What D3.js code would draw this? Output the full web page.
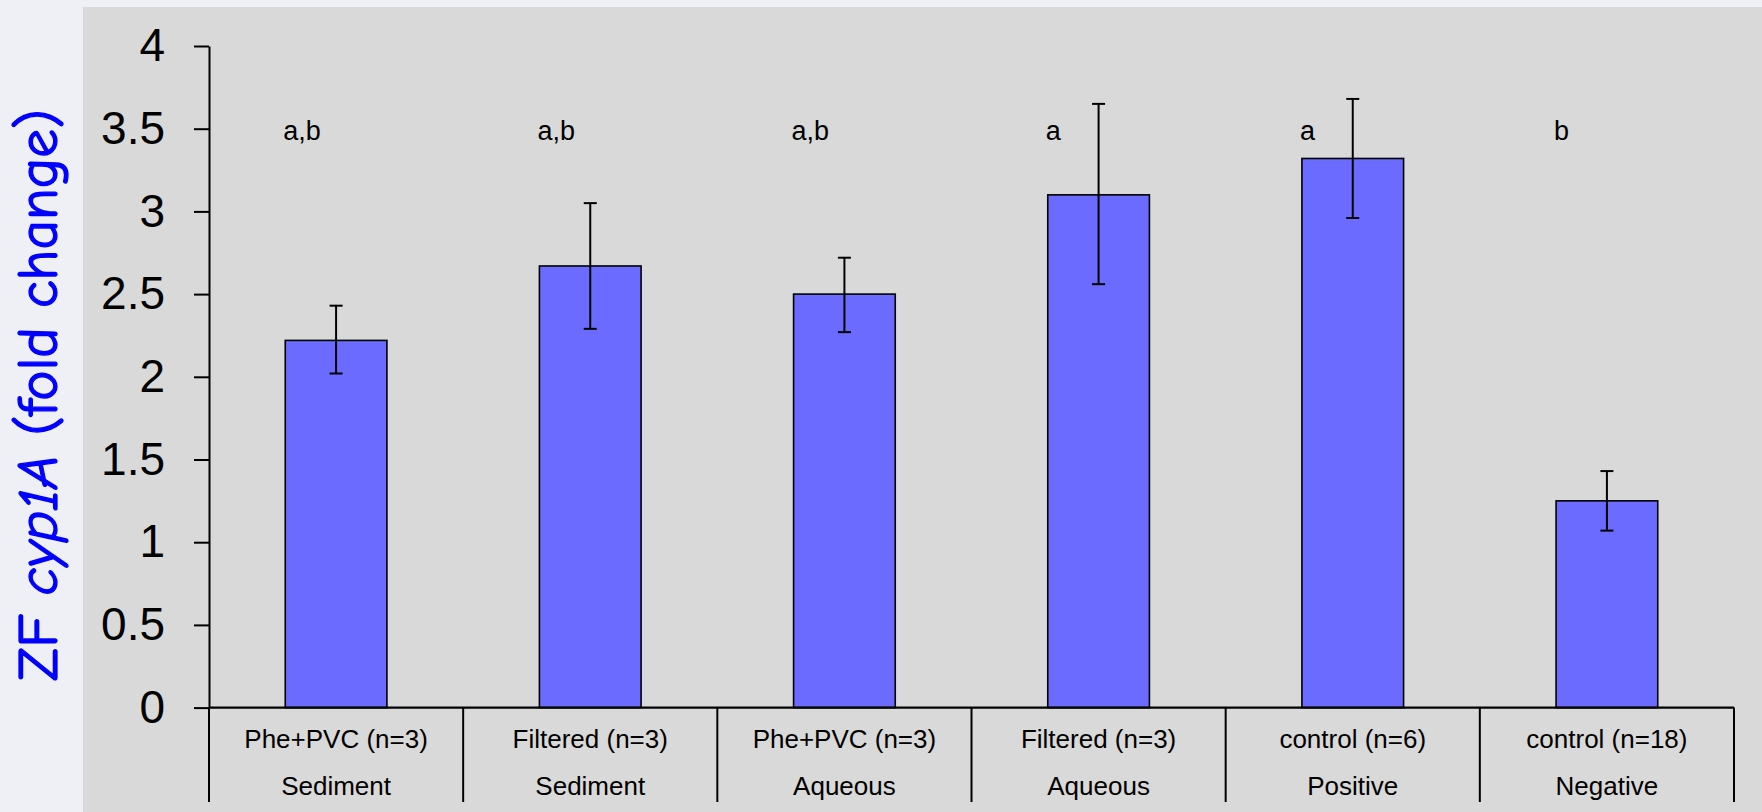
<!DOCTYPE html>
<meta charset="utf-8">
<head>
	<title>ZF cyp1A fold change</title>
	<script type="text/javascript" src="https://cdn.jsdelivr.net/npm/d3@7/dist/d3.min.js"></script>
	<style>
		body { margin: 0; background: #eef0f5; }
		svg { display: block; }
		.tick text, .catlabel, .sig { font-family: "Liberation Sans", Arial, sans-serif; fill: #000; }
		.ytitle { font-family: "Comic Sans MS", "Comic Neue", "DejaVu Sans", sans-serif; fill: #0000ff; stroke: #0000ff; stroke-width: 1.3px; }
	</style>
</head>

<body>
	<div id="chart"></div>
</body>

<script>
	// values
	var treatments = ["Phe+PVC (n=3)", "Filtered (n=3)", "Phe+PVC (n=3)", "Filtered (n=3)", "control (n=6)", "control (n=18)"];
	var groups     = ["Sediment", "Sediment", "Aqueous", "Aqueous", "Positive", "Negative"];
	var foldChange = [2.22, 2.67, 2.50, 3.10, 3.32, 1.25];
	var errUpper   = [2.43, 3.05, 2.72, 3.65, 3.68, 1.43];
	var errLower   = [2.02, 2.29, 2.27, 2.56, 2.96, 1.07];
	var letters    = ["a,b", "a,b", "a,b", "a", "a", "b"];
	var yTicks     = [0, 0.5, 1, 1.5, 2, 2.5, 3, 3.5, 4];

	var width = 1762, height = 812;

	var svg = d3.select("#chart").append("svg")
		.attr("width", width)
		.attr("height", height);

	// grey plot panel
	svg.append("rect")
		.attr("x", 83)
		.attr("y", 7)
		.attr("width", width - 83)
		.attr("height", height - 7)
		.attr("fill", "#d9d9d9");

	var idx = d3.range(treatments.length);

	var x = d3.scaleBand()
		.domain(idx)
		.range([209, 1734])
		.padding(0);

	var y = d3.scaleLinear()
		.domain([0, 4])
		.range([707.6, 46]);

	var barW = x.bandwidth() * 0.4;

	// bars
	svg.append("g").selectAll("rect")
		.data(idx)
		.enter().append("rect")
		.attr("x", function(i) { return x(i) + (x.bandwidth() - barW) / 2; })
		.attr("y", function(i) { return y(foldChange[i]); })
		.attr("width", barW)
		.attr("height", function(i) { return y(0) - y(foldChange[i]); })
		.attr("fill", "#6b6bff")
		.attr("stroke", "#000")
		.attr("stroke-width", 1.6);

	// error bars
	var err = svg.append("g")
		.attr("stroke", "#000")
		.attr("stroke-width", 2);

	idx.forEach(function(i) {
		var cx = x(i) + x.bandwidth() / 2;
		err.append("line")
			.attr("x1", cx).attr("x2", cx)
			.attr("y1", y(errLower[i])).attr("y2", y(errUpper[i]));
		[errLower[i], errUpper[i]].forEach(function(v) {
			err.append("line")
				.attr("x1", cx - 6.5).attr("x2", cx + 6.5)
				.attr("y1", y(v)).attr("y2", y(v));
		});
	});

	// significance letters
	svg.append("g").selectAll("text")
		.data(idx)
		.enter().append("text")
		.attr("class", "sig")
		.attr("x", function(i) { return x(i) + (x.bandwidth() - barW) / 2 - 2; })
		.attr("y", y(3.43))
		.attr("font-size", 27)
		.text(function(i) { return letters[i]; });

	// y axis
	var yAxis = svg.append("g")
		.attr("transform", "translate(209,0)")
		.call(d3.axisLeft(y)
			.tickValues(yTicks)
			.tickSize(15)
			.tickSizeOuter(0)
			.tickPadding(29)
			.tickFormat(d3.format("~g")));

	yAxis.selectAll("path, line").attr("stroke", "#000").attr("stroke-width", 2);
	yAxis.selectAll("text").attr("font-size", 46);

	// x axis line and category separators
	svg.append("line")
		.attr("x1", 209).attr("x2", 1734)
		.attr("y1", y(0)).attr("y2", y(0))
		.attr("stroke", "#000")
		.attr("stroke-width", 2.4);

	var seps = idx.map(function(i) { return x(i); }).concat([x.range()[1]]);
	svg.append("g").selectAll("line")
		.data(seps)
		.enter().append("line")
		.attr("x1", function(d) { return d; })
		.attr("x2", function(d) { return d; })
		.attr("y1", y(0))
		.attr("y2", 802)
		.attr("stroke", "#000")
		.attr("stroke-width", 2);

	var cat = svg.append("g");
	cat.selectAll("text.row1")
		.data(idx)
		.enter().append("text")
		.attr("class", "catlabel row1")
		.attr("x", function(i) { return x(i) + x.bandwidth() / 2; })
		.attr("y", 748)
		.attr("text-anchor", "middle")
		.attr("font-size", 26)
		.text(function(i) { return treatments[i]; });

	cat.selectAll("text.row2")
		.data(idx)
		.enter().append("text")
		.attr("class", "catlabel row2")
		.attr("x", function(i) { return x(i) + x.bandwidth() / 2; })
		.attr("y", 795)
		.attr("text-anchor", "middle")
		.attr("font-size", 26)
		.text(function(i) { return groups[i]; });

	// y axis title
	var title = svg.append("text")
		.attr("class", "ytitle")
		.attr("transform", "translate(57,395) rotate(-90)")
		.attr("text-anchor", "middle")
		.attr("font-size", 56)
		.attr("textLength", 572)
		.attr("lengthAdjust", "spacingAndGlyphs");

	title.append("tspan").text("ZF ");
	title.append("tspan").attr("font-style", "italic").text("cyp1A");
	title.append("tspan").text(" (fold change)");
</script>
